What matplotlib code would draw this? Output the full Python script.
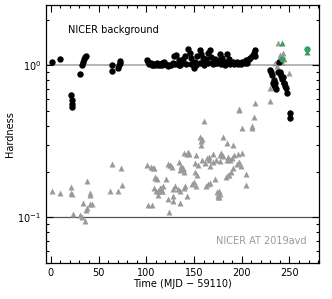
import matplotlib.pyplot as plt
from matplotlib.ticker import MultipleLocator, LogLocator, NullFormatter

plt.rcParams['font.family'] = 'DejaVu Sans'

# NICER background hardness (black circles)
bkg_t = [1.7, 10, 21, 22, 22, 22, 31, 33, 34, 35, 36, 37, 64, 64, 70, 71, 72, 73,
         100.6, 102.3, 103, 104.8, 106, 106.9, 108, 109.3, 111.1, 112, 113.9, 115, 116.3, 117,
         118.8, 120, 121.6, 123.3, 124, 125.8, 127.9, 129.3, 130, 131.4, 133.8, 134, 135.5,
         137, 138.3, 140.8, 142, 143.3, 145.3, 146.7, 147, 148.8, 150.2, 151.3, 152, 153.0,
         155.8, 156, 157.2, 159.3, 160.7, 161, 162.8, 164.2, 165, 166.3, 167.7, 169.8, 170,
         172.2, 173, 174.0, 175.7, 177.5, 178, 179.2, 180.9, 182.7, 183, 184.4, 186.2, 187.9,
         188, 190.7, 192, 193.2, 194.9, 196, 197.7, 199, 200.2, 201.9, 203, 204.7, 206, 207.2,
         208.9, 210.7, 212.4, 213.5, 214.2,
         229.9, 231.7, 233.3, 235.1, 234.5, 236, 230.6, 232.7, 234, 238.6, 240.4, 243.2,
         244.5, 246.6, 247.4, 237.5, 239.6, 241.1, 242.1, 243.8, 245.6, 250.1, 250.1]
bkg_h = [1.05, 1.10, 0.64, 0.59, 0.56, 0.53, 0.88, 1.00, 1.06, 1.10, 1.13, 1.15, 1.01, 0.92,
         0.96, 1.00, 1.04, 1.07,
         1.08, 1.05, 1.02, 1.03, 1.01, 1.00, 1.02, 1.01, 1.03, 1.01, 1.00, 1.02, 1.04, 1.00,
         1.06, 1.02, 1.01, 0.99, 1.01, 1.00, 1.03, 1.15, 1.02, 1.18, 1.08, 1.00, 1.01,
         1.04, 1.10, 1.15, 1.02, 1.28, 1.21, 1.12, 1.02, 1.03, 0.96, 1.06, 1.01, 1.16,
         1.27, 1.03, 1.19, 1.12, 1.06, 1.01, 1.10, 1.21, 1.03, 1.26, 1.14, 1.06, 1.02,
         1.10, 1.03, 1.04, 1.08, 1.19, 1.02, 1.12, 1.04, 1.06, 1.01, 1.19, 1.10, 1.06,
         1.02, 1.05, 1.02, 1.04, 1.06, 1.02, 1.04, 1.02, 1.05, 1.06, 1.03, 1.09, 1.04, 1.10,
         1.12, 1.15, 1.21, 1.27, 1.15,
         0.94, 0.87, 0.80, 0.72, 0.77, 0.70, 0.90, 0.77, 0.74, 1.05, 0.91, 0.84,
         0.77, 0.71, 0.66, 0.91, 0.89, 0.85, 0.81, 0.77, 0.73, 0.485, 0.45]

# NICER AT 2019avd hardness (grey triangles)
src_t = [1.7, 10, 21.3, 21.3, 22.3, 23.7, 30.7, 32.5, 36, 33.5, 38.4, 41.2, 41.2, 40.9, 43,
         37, 38, 64, 73.4, 62.2, 70.9, 74.4,
         101.3, 108.3, 102, 106, 109.3, 111, 115.6, 117, 123.3, 127.5, 124.3, 135.5, 128.5,
         130, 108.3, 110, 112.5, 114, 121, 123, 125, 136.6, 135, 138, 140, 143.4, 145,
         151.3, 153, 148, 150, 152, 165, 167, 163, 175.5, 176, 174, 176, 187, 189, 191,
         195, 197, 199, 204.7, 204.7, 105, 107, 109.3, 114.6, 116, 118, 133.4, 135,
         139.7, 141, 112.5, 127.9, 142.6, 175.4, 177, 125, 127, 133.8, 138.4, 151.3, 154,
         158, 161.7, 164, 166, 167, 170, 176.8, 184.5, 139.7, 143, 152.3, 177.5, 157.5,
         158, 160.7, 180.3, 184.5, 156.4, 157, 178.8, 180, 186, 188, 190, 192, 196, 200,
         170, 173, 166, 191, 172.2, 183.8, 186, 196.7, 200.2, 210.7, 197.4, 210.7, 213, 214.2,
         229.2, 229.9, 249, 237.5, 235.1, 236.9, 238.6, 239.6, 242.1, 243.2, 244.5]
src_h = [0.150, 0.145, 0.158, 0.144, 0.142, 0.105, 0.103, 0.101, 0.095, 0.124, 0.174, 0.122,
         0.144, 0.140, 0.122, 0.112, 0.115, 0.224, 0.210, 0.148, 0.148, 0.163,
         0.221, 0.210, 0.120, 0.120, 0.183, 0.180, 0.156, 0.150, 0.132, 0.128, 0.109, 0.125,
         0.154, 0.160, 0.156, 0.150, 0.149, 0.152, 0.180, 0.224, 0.220, 0.218, 0.205, 0.212,
         0.200, 0.270, 0.260, 0.200, 0.190, 0.166, 0.172, 0.160, 0.165, 0.168, 0.160, 0.140,
         0.135, 0.146, 0.150, 0.190, 0.200, 0.210, 0.225, 0.230, 0.218, 0.194, 0.164, 0.215,
         0.210, 0.181, 0.156, 0.150, 0.160, 0.154, 0.150, 0.156, 0.160, 0.141, 0.138, 0.138,
         0.137, 0.142, 0.220, 0.215, 0.232, 0.207, 0.228, 0.222, 0.240, 0.228, 0.245, 0.240,
         0.218, 0.230, 0.236, 0.238, 0.266, 0.262, 0.257, 0.257, 0.320, 0.330, 0.430, 0.340,
         0.310, 0.340, 0.300, 0.266, 0.255, 0.250, 0.240, 0.245, 0.258, 0.262, 0.265, 0.262,
         0.240, 0.250, 0.300, 0.178, 0.185, 0.190, 0.510, 0.387, 0.390, 0.515, 0.400, 0.460,
         0.565, 0.580, 0.710, 0.890, 1.410, 1.040, 0.985, 1.090, 1.180, 1.060, 1.210, 1.100]

# points where both agree (green)
grn_circ_t = [242.1, 268.3]
grn_circ_h = [1.10, 1.28]
grn_tri_t = [242.1, 268.3]
grn_tri_h = [1.41, 1.22]

grey = '#9a9a9a'
green = '#3a9e5c'

fig = plt.figure(figsize=(3.32, 2.99), dpi=100)
ax = fig.add_axes([0.1386, 0.1204, 0.8224, 0.8629])

ax.axhline(1.0, color='#b0b0b0', lw=1.3, zorder=1)
ax.axhline(0.1, color='#555555', lw=0.9, zorder=1)

ax.plot(src_t, src_h, '^', color=grey, ms=4.2, mec='none', zorder=2)
ax.plot(bkg_t, bkg_h, 'o', color='black', ms=4.6, mec='none', zorder=3)
ax.plot(grn_tri_t, grn_tri_h, '^', color=green, ms=4.2, mec='none', zorder=4)
ax.plot(grn_circ_t, grn_circ_h, 'o', color=green, ms=4.6, mec='none', zorder=4)

ax.set_yscale('log')
ax.set_xlim(-5, 281)
ax.set_ylim(0.05, 2.5)

ax.xaxis.set_major_locator(MultipleLocator(50))
ax.xaxis.set_minor_locator(MultipleLocator(10))
ax.yaxis.set_major_locator(LogLocator(base=10))
ax.yaxis.set_minor_locator(LogLocator(base=10, subs=range(2, 10)))
ax.yaxis.set_minor_formatter(NullFormatter())
ax.tick_params(which='both', direction='in', top=True, right=True, labelsize=7, width=0.8)
ax.tick_params(which='major', length=5)
ax.tick_params(which='minor', length=2.5)
for s in ax.spines.values():
    s.set_linewidth(0.9)

ax.set_xlabel('Time (MJD − 59110)', fontsize=7, labelpad=1)
ax.set_ylabel('Hardness', fontsize=7, labelpad=2)

ax.text(0.08, 0.905, 'NICER background', transform=ax.transAxes, fontsize=7, color='black',
        ha='left', va='center')
ax.text(0.955, 0.085, 'NICER AT 2019avd', transform=ax.transAxes, fontsize=7, color=grey,
        ha='right', va='center')

fig.savefig('out.png', dpi=100)
